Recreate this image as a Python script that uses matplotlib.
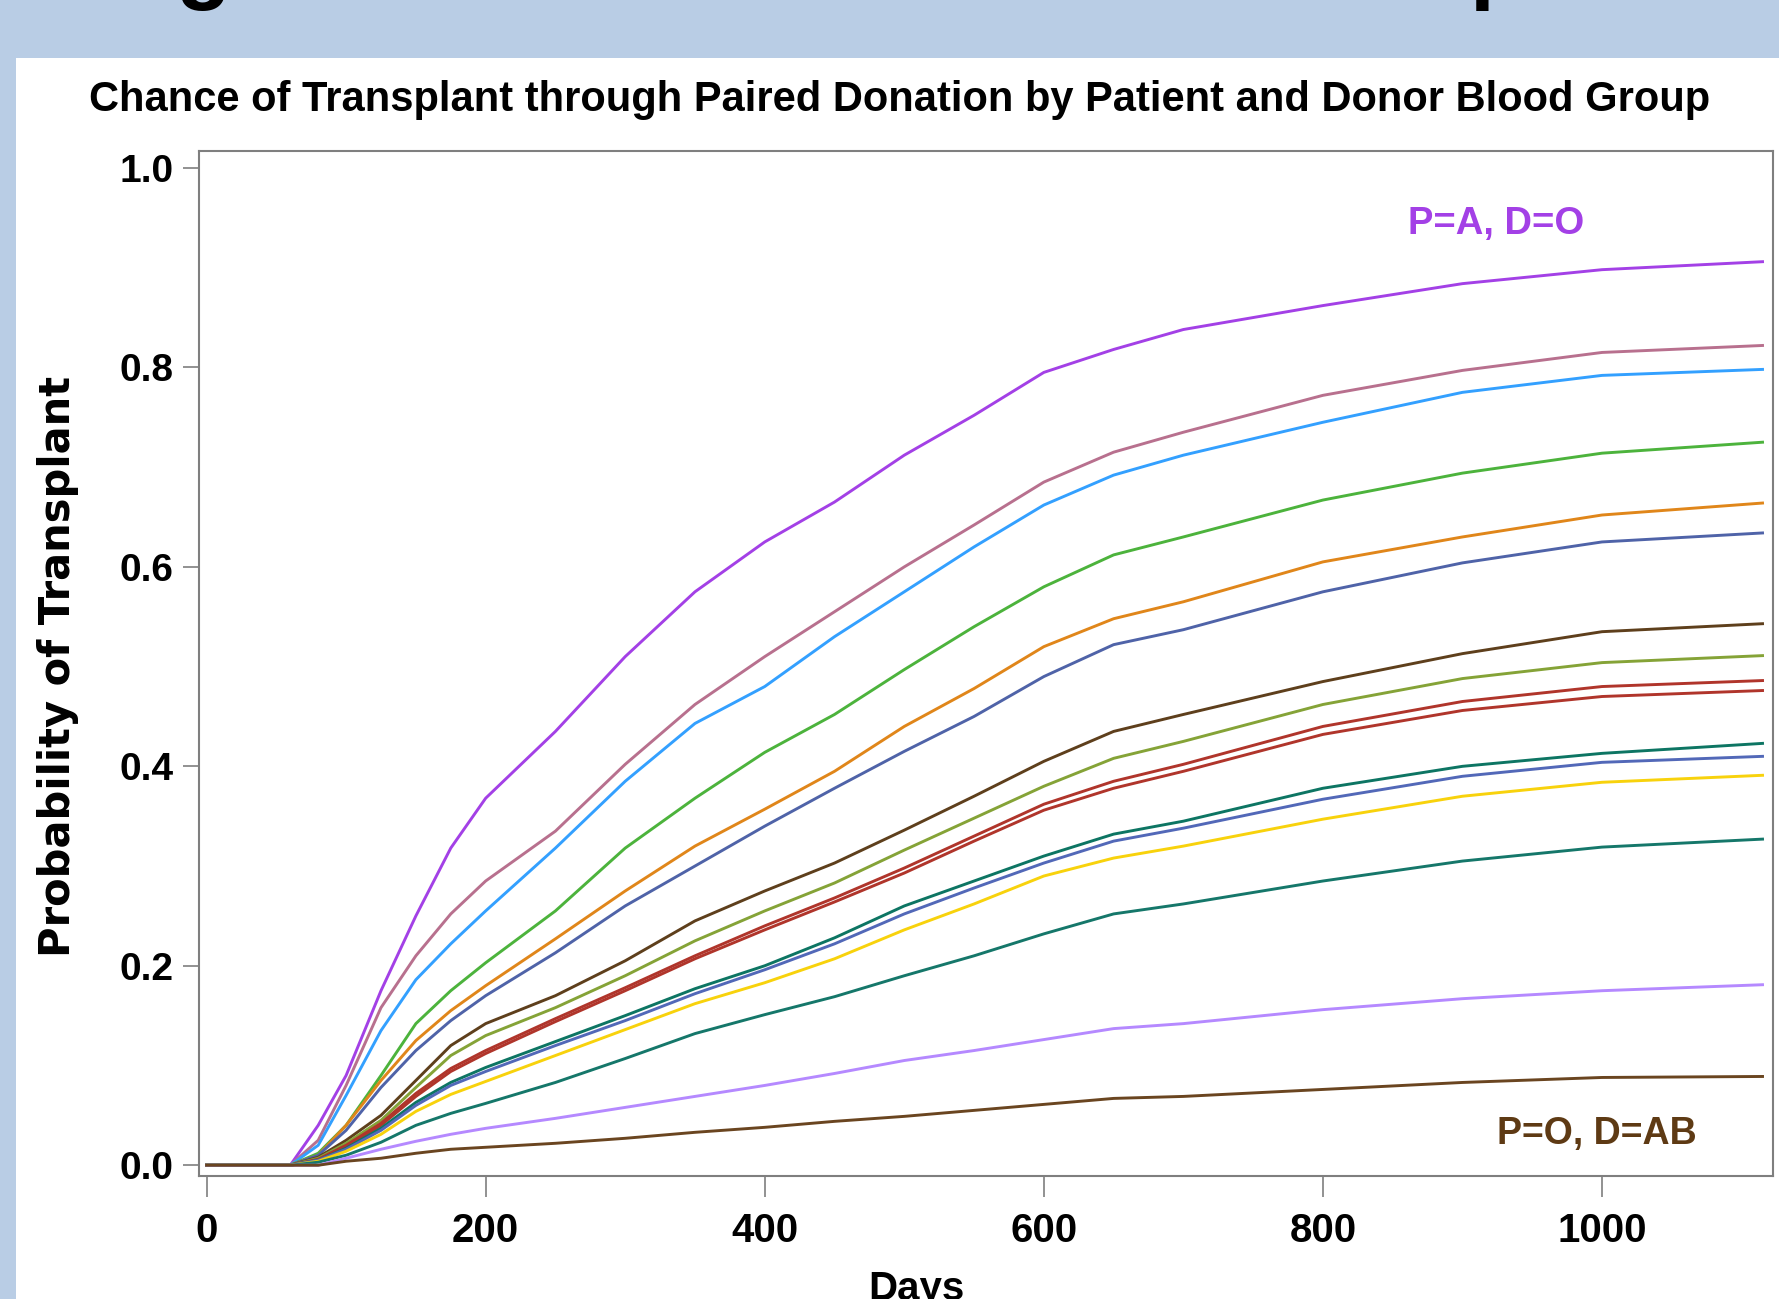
import matplotlib
matplotlib.use("Agg")
import matplotlib.pyplot as plt
from matplotlib.patches import Rectangle

days = [0, 60, 80, 100, 125, 150, 175, 200, 250, 300, 350, 400, 450, 500,
        550, 600, 650, 700, 800, 900, 1000, 1115]

# cumulative probability of transplant, one list per patient/donor pairing
p_a_d_o = [0, 0, 0.04, 0.09, 0.175, 0.25, 0.318, 0.368, 0.435, 0.51, 0.575, 0.625,
           0.665, 0.712, 0.752, 0.795, 0.818, 0.838, 0.862, 0.884, 0.898, 0.906]
mauve = [0, 0, 0.025, 0.08, 0.158, 0.21, 0.252, 0.285, 0.335, 0.402, 0.462, 0.51,
         0.555, 0.60, 0.642, 0.685, 0.715, 0.735, 0.772, 0.797, 0.815, 0.822]
light_blue = [0, 0, 0.02, 0.07, 0.135, 0.186, 0.222, 0.255, 0.318, 0.385, 0.443, 0.48,
              0.53, 0.575, 0.62, 0.662, 0.692, 0.712, 0.745, 0.775, 0.792, 0.798]
green = [0, 0, 0.012, 0.04, 0.09, 0.142, 0.175, 0.203, 0.255, 0.318, 0.368, 0.414,
         0.452, 0.497, 0.54, 0.58, 0.612, 0.63, 0.667, 0.694, 0.714, 0.725]
orange = [0, 0, 0.01, 0.04, 0.085, 0.125, 0.155, 0.18, 0.227, 0.275, 0.32, 0.357,
          0.395, 0.44, 0.478, 0.52, 0.548, 0.565, 0.605, 0.63, 0.652, 0.664]
slate = [0, 0, 0.01, 0.035, 0.078, 0.115, 0.145, 0.17, 0.213, 0.26, 0.30, 0.34,
         0.378, 0.415, 0.45, 0.49, 0.522, 0.537, 0.575, 0.604, 0.625, 0.634]
brown = [0, 0, 0.008, 0.025, 0.05, 0.085, 0.12, 0.142, 0.17, 0.205, 0.245, 0.275,
         0.303, 0.336, 0.37, 0.405, 0.435, 0.452, 0.485, 0.513, 0.535, 0.543]
olive = [0, 0, 0.007, 0.022, 0.045, 0.078, 0.11, 0.13, 0.158, 0.19, 0.225, 0.255,
         0.283, 0.316, 0.348, 0.38, 0.408, 0.425, 0.462, 0.488, 0.504, 0.511]
red_upper = [0, 0, 0.006, 0.02, 0.042, 0.072, 0.097, 0.115, 0.147, 0.178, 0.21, 0.24,
             0.268, 0.298, 0.33, 0.362, 0.385, 0.402, 0.44, 0.465, 0.48, 0.486]
red_lower = [0, 0, 0.005, 0.018, 0.04, 0.069, 0.094, 0.112, 0.144, 0.175, 0.207, 0.236,
             0.264, 0.293, 0.325, 0.356, 0.378, 0.395, 0.432, 0.456, 0.47, 0.476]
teal = [0, 0, 0.005, 0.017, 0.037, 0.063, 0.083, 0.098, 0.124, 0.15, 0.177, 0.2,
        0.228, 0.26, 0.285, 0.31, 0.332, 0.345, 0.378, 0.40, 0.413, 0.423]
blue_purple = [0, 0, 0.005, 0.016, 0.035, 0.06, 0.08, 0.094, 0.12, 0.145, 0.172, 0.196,
               0.222, 0.252, 0.278, 0.303, 0.325, 0.338, 0.367, 0.39, 0.404, 0.41]
yellow = [0, 0, 0.004, 0.014, 0.031, 0.054, 0.071, 0.084, 0.11, 0.136, 0.162, 0.183,
          0.207, 0.236, 0.262, 0.29, 0.308, 0.32, 0.347, 0.37, 0.384, 0.391]
dark_teal = [0, 0, 0.003, 0.01, 0.023, 0.04, 0.052, 0.062, 0.083, 0.107, 0.132, 0.151,
             0.169, 0.19, 0.21, 0.232, 0.252, 0.262, 0.285, 0.305, 0.319, 0.327]
lavender = [0, 0, 0.0, 0.007, 0.016, 0.024, 0.031, 0.037, 0.047, 0.058, 0.069, 0.08,
            0.092, 0.105, 0.115, 0.126, 0.137, 0.142, 0.156, 0.167, 0.175, 0.181]
p_o_d_ab = [0, 0, 0, 0.004, 0.007, 0.012, 0.016, 0.018, 0.022, 0.027, 0.033, 0.038,
            0.044, 0.049, 0.055, 0.061, 0.067, 0.069, 0.076, 0.083, 0.088, 0.089]

curves = [p_a_d_o, mauve, light_blue, green, orange, slate, brown, olive,
          red_upper, red_lower, teal, blue_purple, yellow, dark_teal, lavender, p_o_d_ab]
colors = ["#A340E6", "#B8708E", "#33A0FF", "#4CB33C", "#E0861A", "#4F63A8",
          "#5E3F1C", "#85A337", "#B0352B", "#B0352B", "#0D7563", "#5268B8",
          "#F8D20C", "#15776A", "#B589FF", "#6A4520"]

x_ticks = [0, 200, 400, 600, 800, 1000]
y_ticks = [0.0, 0.2, 0.4, 0.6, 0.8, 1.0]

grey = "#7F7F7F"

fig = plt.figure(figsize=(17.79, 12.99), dpi=100)
fig.patch.set_facecolor("#B9CDE5")

# white slide panel
fig.patches.append(Rectangle((16 / 1779, 0), 1, 1 - 58 / 1299, transform=fig.transFigure,
                             facecolor="white", edgecolor="none", zorder=-1))

# bits of the slide heading that hang in from the top edge
fig.text(175 / 1779, 1 + 8 / 1299, "g", fontsize=65, family="Liberation Sans",
         weight="bold", va="baseline", ha="left")
fig.text(1469 / 1779, 1 + 8 / 1299, "p", fontsize=65, family="Liberation Sans",
         weight="bold", va="baseline", ha="left")

fig.text(0.5056, 1 - 111 / 1299,
         "Chance of Transplant through Paired Donation by Patient and Donor Blood Group",
         fontsize=30, family="Liberation Sans", weight="bold", ha="center", va="baseline")

ax = fig.add_axes([198.6 / 1779, 1 - 1176 / 1299, (1772.7 - 198.6) / 1779, (1176 - 151) / 1299])
ax.set_zorder(2)

for vals, col in zip(curves, colors):
    ax.plot(days, vals, color=col, lw=2.1, solid_joinstyle="round")

ax.set_xlim(-5.7, 1122.3)
ax.set_ylim(-0.0108, 1.017)
ax.set_xticks(x_ticks)
ax.set_yticks(y_ticks)
ax.set_yticklabels(["%.1f" % v for v in y_ticks])

for s in ax.spines.values():
    s.set_color(grey)
    s.set_linewidth(1.5)

ax.tick_params(axis="y", direction="out", length=11.5, width=1.2, color=grey, pad=6.5,
               labelsize=28)
ax.tick_params(axis="x", direction="out", length=15, width=1.2, color=grey, pad=11,
               labelsize=29)
for lab in ax.get_yticklabels() + ax.get_xticklabels():
    lab.set_family("Liberation Sans")
    lab.set_weight("bold")

ax.set_ylabel("Probability of Transplant", fontsize=30, family="DejaVu Sans",
              weight="bold", va="center")
ax.yaxis.set_label_coords(-0.0893, 0.4976)
ax.set_xlabel("Days", fontsize=29, family="Liberation Sans", weight="bold", va="top")
ax.xaxis.set_label_coords(0.4557, -0.0917)

ax.text(924, 0.944, "P=A, D=O", color="#A340E6", fontsize=27.5, family="Liberation Sans",
        weight="bold", ha="center", va="center")
ax.text(996, 0.031, "P=O, D=AB", color="#5E3A14", fontsize=27, family="Liberation Sans",
        weight="bold", ha="center", va="center")

fig.savefig("out.png", dpi=100, facecolor=fig.get_facecolor())
